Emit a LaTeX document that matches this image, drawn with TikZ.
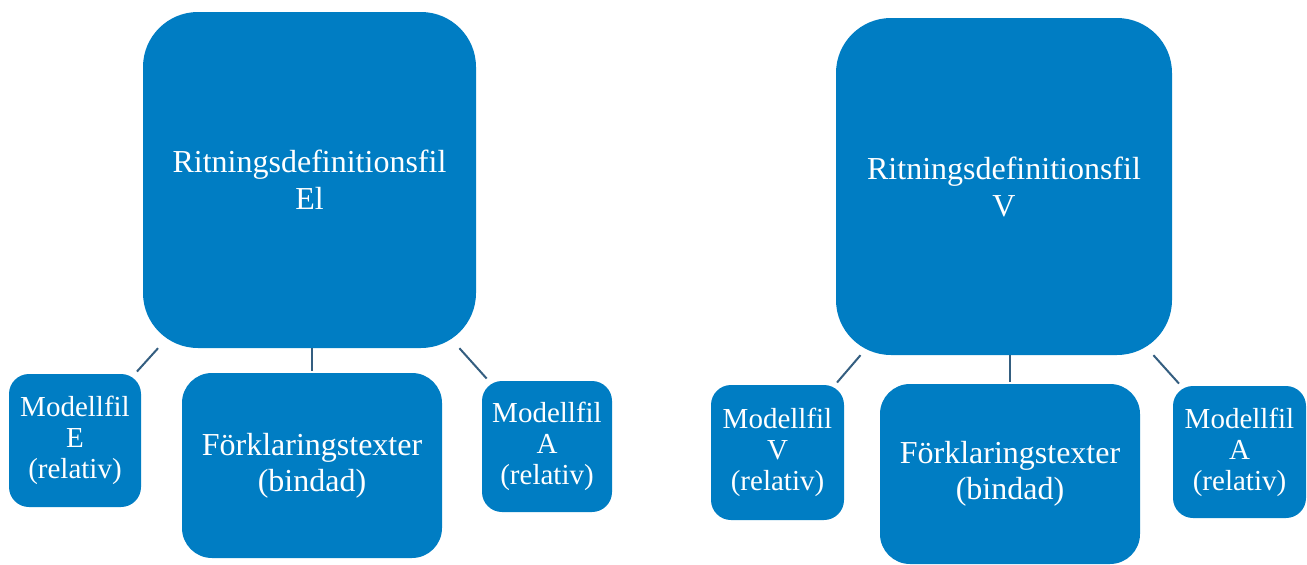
\documentclass[tikz,border=0pt]{standalone}
\usepackage{fontspec}
\setmainfont{Liberation Serif}
\definecolor{boxblue}{RGB}{0,125,195}
\definecolor{linecol}{RGB}{52,94,128}
\begin{document}
\begin{tikzpicture}[x=1pt,y=-1pt,
  box/.style={fill=boxblue,text=white,align=center,inner sep=0pt},
  bigbox/.style={box,rounded corners=55pt,font=\fontsize{32}{37}\selectfont},
  midbox/.style={box,minimum width=260pt,rounded corners=30pt,font=\fontsize{32}{36}\selectfont},
  smallbox/.style={box,rounded corners=20pt,font=\fontsize{29}{31}\selectfont},
  link/.style={draw=linecol,line width=2pt,shorten >=3pt}]
\useasboundingbox (0,0) rectangle (1307,565);
% left group
\node[bigbox,minimum width=333pt,minimum height=336pt] (bigL) at (309.5,180) {Ritningsdefinitionsfil\\El};
\node[smallbox,minimum width=132pt,minimum height=133pt] (smLE) at (75,440.5) {Modellfil\\E\\(relativ)};
\node[midbox,minimum height=185pt] (midL) at (312,465.5) {Förklaringstexter\\(bindad)};
\node[smallbox,minimum width=130pt,minimum height=131pt] (smLA) at (547,446.5) {Modellfil\\A\\(relativ)};
% right group
\node[bigbox,minimum width=336pt,minimum height=337pt] (bigR) at (1004,186.5) {Ritningsdefinitionsfil\\V};
\node[smallbox,minimum width=133pt,minimum height=135pt] (smRV) at (777.5,452.5) {Modellfil\\V\\(relativ)};
\node[midbox,minimum height=180pt] (midR) at (1010,474) {Förklaringstexter\\(bindad)};
\node[smallbox,minimum width=133pt,minimum height=132pt] (smRA) at (1239.5,452) {Modellfil\\A\\(relativ)};
% connectors
\draw[link] (bigL) -- (smLE);
\draw[link,shorten >=2pt] (bigL.south -| midL.north) -- (midL.north);
\draw[link] (bigL) -- (smLA);
\draw[link] (bigR) -- (smRV);
\draw[link,shorten >=2pt] (bigR.south -| midR.north) -- (midR.north);
\draw[link] (bigR) -- (smRA);
\end{tikzpicture}
\end{document}
